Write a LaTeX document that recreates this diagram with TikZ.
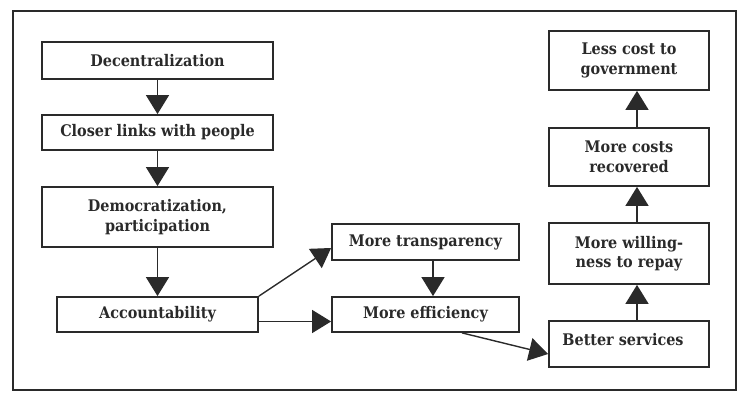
\documentclass[tikz,border=0pt]{standalone}
\usepackage{fontspec}
\setmainfont[FakeStretch=0.9]{DejaVu Serif}
\usetikzlibrary{arrows.meta}
\definecolor{ink}{HTML}{2A2A2A}
\begin{document}
\begin{tikzpicture}[x=1pt,y=-1pt,
  lbl/.style={font=\bfseries\fontsize{16}{19.5}\selectfont, text=ink},
  box/.style={lbl, draw=ink, line width=1.8pt, rectangle, inner sep=0pt, align=center},
  arr/.style={draw=ink, line width=1.4pt, -{Triangle[length=19pt,width=23pt]}}]
\useasboundingbox (0,0) rectangle (747,406);
\node[draw=ink, line width=2.4pt, minimum width=723pt, minimum height=379pt, inner sep=0pt] (frame) at (374.5,200.5) {};
\node[box, minimum width=231pt, minimum height=37pt] (dec) at (157.5,60.5) {Decentralization};
\node[box, minimum width=231pt, minimum height=35pt] (clo) at (157.5,132.5) {Closer links with people};
\node[box, minimum width=231pt, minimum height=60pt] (dem) at (157.5,217) {Democratization,\\participation};
\node[box, minimum width=201pt, minimum height=35pt] (acc) at (157.5,314.5) {Accountability};
\node[box, minimum width=187pt, minimum height=36pt] (tra) at (425.5,242) {More transparency};
\node[box, minimum width=187pt, minimum height=35pt] (eff) at (425.5,314.5) {More efficiency};
\node[box, minimum width=160pt, minimum height=46pt] (bet) at (629,344) {};
\node[lbl, inner sep=0pt] (bett) at (623,340) {Better services};
\node[box, minimum width=160pt, minimum height=61pt] (wil) at (629,253.5) {More willing-\\ness to repay};
\node[box, minimum width=160pt, minimum height=58pt] (rec) at (629,157) {More costs\\recovered};
\node[box, minimum width=160pt, minimum height=59pt] (les) at (629,60.5) {Less cost to\\government};
\draw[arr] (dec.south) -- (clo.north);
\draw[arr] (clo.south) -- (dem.north);
\draw[arr] (dem.south) -- (acc.north);
\draw[arr] (acc.north east) -- ([yshift=-6pt]tra.west);
\draw[arr] ([yshift=-7pt]acc.east) -- ([yshift=-7pt]eff.west);
\draw[arr] ([xshift=7.5pt]tra.south) -- ([xshift=7.5pt]eff.north);
\draw[arr] ([xshift=36.5pt]eff.south) -- ([yshift=-10pt]bet.west);
\draw[arr] ([xshift=8pt]bet.north) -- ([xshift=8pt]wil.south);
\draw[arr] ([xshift=8pt]wil.north) -- ([xshift=8pt]rec.south);
\draw[arr] ([xshift=8pt]rec.north) -- ([xshift=8pt]les.south);
\end{tikzpicture}
\end{document}
